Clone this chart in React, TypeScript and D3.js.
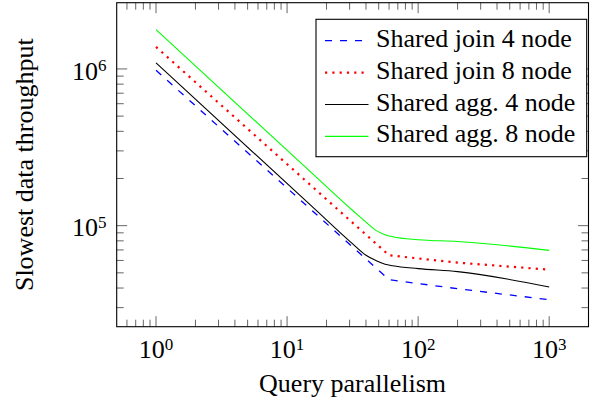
import React from "react";
import * as d3 from "d3";

// Query parallelism sampled for the shared-join runs
const joinX = [1, 60, 200, 1000];
const join4 = [980000, 45200, 39600, 33700];
const join8 = [1382000, 64700, 58100, 52400];

// Query parallelism sampled for the shared-aggregation runs
const aggX = [1, 16, 32, 40, 48, 56, 64, 100, 200, 1000];
const agg4 = [1092000, 129500, 76000, 64800, 59800, 56800, 55500, 53200, 50900, 40600];
const agg8 = [1780000, 211000, 124000, 105300, 93000, 87600, 85000, 81400, 79300, 69600];

const seriesNames = [
  "Shared join 4 node",
  "Shared join 8 node",
  "Shared agg. 4 node",
  "Shared agg. 8 node",
];

const xMajorExponents = [0, 1, 2, 3];
const yMajorExponents = [5, 6];

const xLabel = "Query parallelism";
const yLabel = "Slowest data throughput";

const W = 592;
const H = 401;
const plot = { left: 116.7, right: 588.5, top: 2.7, bottom: 326.7 };
const FONT = "Liberation Serif, Times New Roman, Tinos, DejaVu Serif, serif";
const FS = 26;
const SUP = 17;

type Pt = { x: number; y: number };
const zip = (xs: number[], ys: number[]): Pt[] => xs.map((x, i) => ({ x, y: ys[i] }));

const series = [
  { name: seriesNames[0], data: zip(joinX, join4), color: "#0000ff", width: 1.3, dash: "7 8", curve: d3.curveLinear },
  { name: seriesNames[1], data: zip(joinX, join8), color: "#ff0000", width: 2.2, dash: "2.2 5.1", curve: d3.curveLinear },
  { name: seriesNames[2], data: zip(aggX, agg4), color: "#000000", width: 1.1, dash: undefined, curve: d3.curveMonotoneX },
  { name: seriesNames[3], data: zip(aggX, agg8), color: "#00ff00", width: 1.1, dash: undefined, curve: d3.curveMonotoneX },
];

// log-space extents padded by 10% on each side
const padLog = (vals: number[]): [number, number] => {
  const [lo, hi] = d3.extent(vals.map(Math.log10)) as [number, number];
  const p = (hi - lo) * 0.1;
  return [Math.pow(10, lo - p), Math.pow(10, hi + p)];
};

const allX = [...joinX, ...aggX];
const allY = [...join4, ...join8, ...agg4, ...agg8];

const xScale = d3.scaleLog().domain(padLog(allX)).range([plot.left, plot.right]);
const yScale = d3.scaleLog().domain(padLog(allY)).range([plot.bottom, plot.top]);

// minor ticks from the decade below the domain up to the last major decade
function minorTicks(scale: d3.ScaleLogarithmic<number, number>, lastMajorExp: number): number[] {
  const [d0, d1] = scale.domain();
  const out: number[] = [];
  for (let e = Math.floor(Math.log10(d0)); e < lastMajorExp; e++) {
    for (let m = 2; m <= 9; m++) {
      const v = m * Math.pow(10, e);
      if (v > d0 && v < d1) out.push(v);
    }
  }
  return out;
}

const xMinor = minorTicks(xScale, d3.max(xMajorExponents)!);
const yMinor = minorTicks(yScale, d3.max(yMajorExponents)!);

const MAJ = 10.5;
const MIN = 7;
const TICK = "#666";

const textStyle: React.CSSProperties = { fontFamily: FONT, fontSize: FS };

function Pow({ x, y, exp, anchor }: { x: number; y: number; exp: number; anchor: "middle" | "end" }) {
  return (
    <text x={x} y={y} textAnchor={anchor} style={textStyle} fill="#000">
      10
      <tspan style={{ fontSize: SUP }} dy={-8.5}>
        {exp}
      </tspan>
    </text>
  );
}

export default function App() {
  const lineGen = (curve: d3.CurveFactory) =>
    d3
      .line<Pt>()
      .x((d) => xScale(d.x))
      .y((d) => yScale(d.y))
      .curve(curve);

  const legend = { left: 316, right: 586.7, top: 19.3, bottom: 156.7, row: 31.9 };

  return (
    <svg
      width={W}
      height={H}
      viewBox={`0 0 ${W} ${H}`}
      style={{ position: "absolute", left: 0, top: 0, background: "#fff" }}
    >
      <defs>
        <clipPath id="plot-area">
          <rect x={plot.left} y={plot.top} width={plot.right - plot.left} height={plot.bottom - plot.top} />
        </clipPath>
      </defs>

      {/* ticks on all four sides, pointing inward */}
      <g stroke={TICK} strokeWidth={1}>
        {xMinor.map((v) => (
          <g key={`xm${v}`}>
            <line x1={xScale(v)} x2={xScale(v)} y1={plot.bottom} y2={plot.bottom - MIN} />
            <line x1={xScale(v)} x2={xScale(v)} y1={plot.top} y2={plot.top + MIN} />
          </g>
        ))}
        {xMajorExponents.map((e) => {
          const x = xScale(Math.pow(10, e));
          return (
            <g key={`xM${e}`}>
              <line x1={x} x2={x} y1={plot.bottom} y2={plot.bottom - MAJ} />
              <line x1={x} x2={x} y1={plot.top} y2={plot.top + MAJ} />
            </g>
          );
        })}
        {yMinor.map((v) => (
          <g key={`ym${v}`}>
            <line x1={plot.left} x2={plot.left + MIN} y1={yScale(v)} y2={yScale(v)} />
            <line x1={plot.right} x2={plot.right - MIN} y1={yScale(v)} y2={yScale(v)} />
          </g>
        ))}
        {yMajorExponents.map((e) => {
          const y = yScale(Math.pow(10, e));
          return (
            <g key={`yM${e}`}>
              <line x1={plot.left} x2={plot.left + MAJ} y1={y} y2={y} />
              <line x1={plot.right} x2={plot.right - MAJ} y1={y} y2={y} />
            </g>
          );
        })}
      </g>

      {/* data series */}
      <g clipPath="url(#plot-area)">
        {series.map((s) => (
          <path
            key={s.name}
            d={lineGen(s.curve)(s.data) ?? ""}
            fill="none"
            stroke={s.color}
            strokeWidth={s.width}
            strokeDasharray={s.dash}
          />
        ))}
      </g>

      {/* frame */}
      <rect
        x={plot.left}
        y={plot.top}
        width={plot.right - plot.left}
        height={plot.bottom - plot.top}
        fill="none"
        stroke="#000"
        strokeWidth={1.1}
      />

      {/* tick labels */}
      {xMajorExponents.map((e) => (
        <Pow key={`xl${e}`} x={xScale(Math.pow(10, e))} y={plot.bottom + 31.6} exp={e} anchor="middle" />
      ))}
      {yMajorExponents.map((e) => (
        <Pow key={`yl${e}`} x={106.5} y={yScale(Math.pow(10, e)) + 10.8} exp={e} anchor="end" />
      ))}

      {/* axis titles */}
      <text
        x={(plot.left + plot.right) / 2}
        y={391.5}
        textAnchor="middle"
        style={textStyle}
        fill="#000"
      >
        {xLabel}
      </text>
      <text
        transform={`translate(32.5, ${(plot.top + plot.bottom) / 2}) rotate(-90)`}
        textAnchor="middle"
        style={textStyle}
        fill="#000"
      >
        {yLabel}
      </text>

      {/* legend */}
      <rect
        x={legend.left}
        y={legend.top}
        width={legend.right - legend.left}
        height={legend.bottom - legend.top}
        fill="#fff"
        stroke="#000"
        strokeWidth={1.1}
      />
      {series.map((s, i) => {
        const cy = legend.top + 21.4 + i * legend.row;
        return (
          <g key={`lg${s.name}`}>
            <line
              x1={325}
              x2={368.5}
              y1={cy}
              y2={cy}
              stroke={s.color}
              strokeWidth={s.width}
              strokeDasharray={s.dash}
            />
            <text x={376} y={cy + 6} style={textStyle} fill="#000">
              {s.name}
            </text>
          </g>
        );
      })}
    </svg>
  );
}
